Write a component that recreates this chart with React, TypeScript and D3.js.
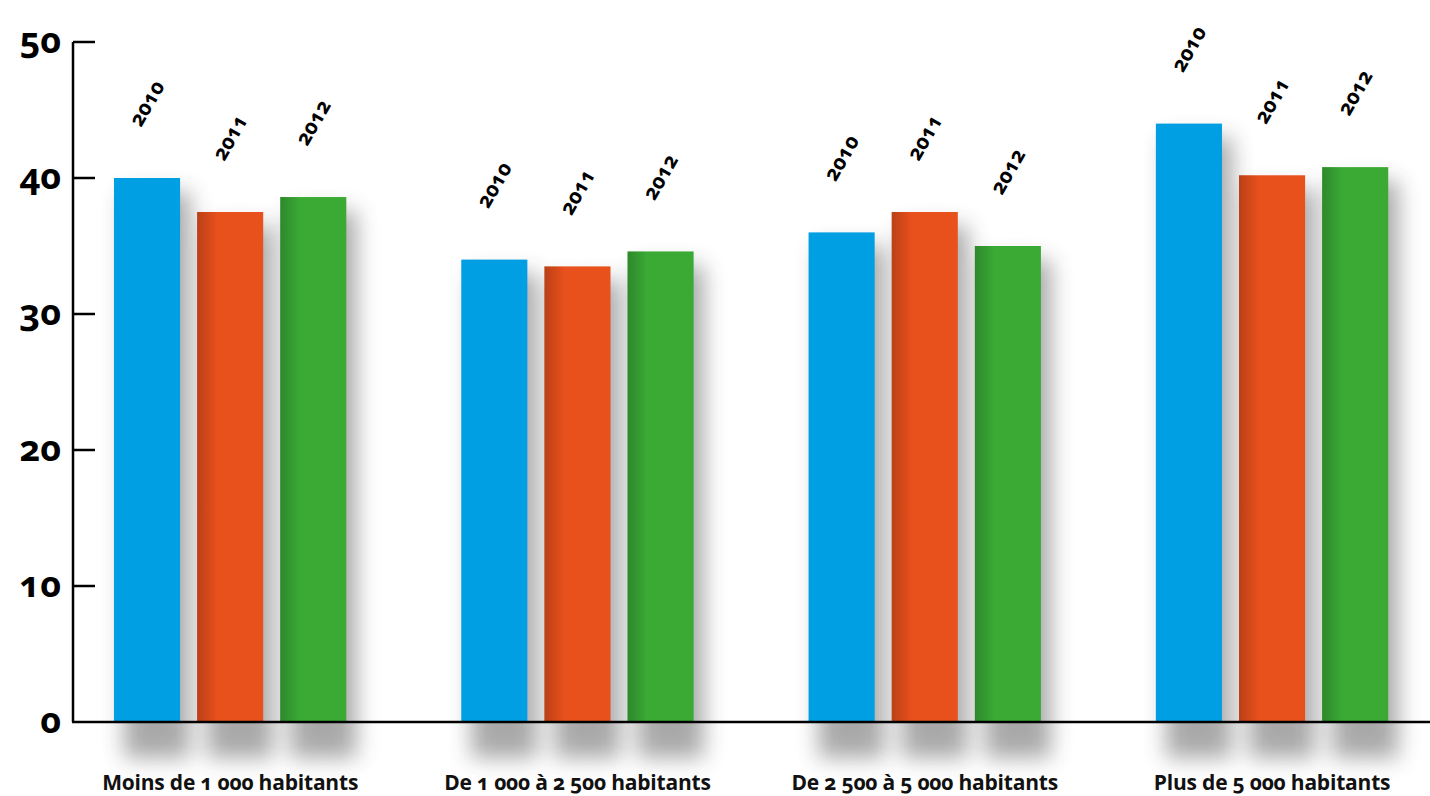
import React from "react";
import * as d3 from "d3";

const categories = [
  "Moins de 1 000 habitants",
  "De 1 000 à 2 500 habitants",
  "De 2 500 à 5 000 habitants",
  "Plus de 5 000 habitants",
];
const years = ["2010", "2011", "2012"];
const values2010 = [40.0, 34.0, 36.0, 44.0];
const values2011 = [37.5, 33.5, 37.5, 40.2];
const values2012 = [38.6, 34.6, 35.0, 40.8];
const yTicks = [0, 10, 20, 30, 40, 50];
const colors = ["#009fe3", "#e8501c", "#3aaa35"];

const W = 1430;
const H = 796;

export default function App() {
  const series = [values2010, values2011, values2012];
  const y = d3.scaleLinear().domain([0, 50]).range([722, 42]);
  const x0 = d3
    .scaleBand<string>()
    .domain(categories)
    .range([56.5, 1445.7])
    .paddingInner(0.331)
    .paddingOuter(0.1655);
  const x1 = d3
    .scaleBand<string>()
    .domain(years)
    .range([0, x0.bandwidth()])
    .paddingInner(0.205)
    .paddingOuter(0);
  const font = "'Open Sans', 'DejaVu Sans', sans-serif";
  const axisX = 73;

  const bars: { cat: string; yi: number; x: number; top: number; v: number }[] = [];
  categories.forEach((c, ci) => {
    years.forEach((yr, yi) => {
      const v = series[yi][ci];
      bars.push({ cat: c, yi, x: (x0(c) as number) + (x1(yr) as number), top: y(v), v });
    });
  });
  const bw = x1.bandwidth();

  return (
    <svg
      width={W}
      height={H}
      style={{ position: "absolute", left: 0, top: 0, background: "#fff" }}
    >
      <defs>
        <filter id="shadow" x="-50%" y="-50%" width="200%" height="200%">
          <feGaussianBlur stdDeviation="11" />
        </filter>
        <linearGradient id="edge" x1="0" x2="1" y1="0" y2="0">
          <stop offset="0" stopColor="#000" stopOpacity="0.2" />
          <stop offset="1" stopColor="#000" stopOpacity="0" />
        </linearGradient>
      </defs>
      {/* shadows */}
      <g filter="url(#shadow)" opacity={0.42}>
        {bars.map((b, i) => (
          <rect
            key={"s" + i}
            x={b.x + 10}
            y={b.top + 14}
            width={bw}
            height={y(0) - b.top + 22}
            fill="#333"
          />
        ))}
      </g>
      {/* bars */}
      {bars.map((b, i) => (
        <g key={"b" + i}>
          <rect x={b.x} y={b.top} width={bw} height={y(0) - b.top} fill={colors[b.yi]} />
          {b.yi > 0 && (
            <rect x={b.x} y={b.top} width={20} height={y(0) - b.top} fill="url(#edge)" />
          )}
        </g>
      ))}
      {/* axes */}
      <line x1={axisX} x2={axisX} y1={y(50)} y2={y(0)} stroke="#000" strokeWidth={2.5} />
      <line x1={axisX - 1} x2={W} y1={y(0)} y2={y(0)} stroke="#000" strokeWidth={2.5} />
      {yTicks.map((t) => (
        <g key={"t" + t}>
          {t > 0 && (
            <line x1={axisX} x2={axisX + 22} y1={y(t)} y2={y(t)} stroke="#000" strokeWidth={2.5} />
          )}
          <text
            x={61}
            y={y(t)}
            dy="0.3em"
            textAnchor="end"
            fontFamily={font}
            fontWeight={700}
            fontSize={36}
            style={{ fontFeatureSettings: "'onum'" }}
            fill="#000"
          >
            {t}
          </text>
        </g>
      ))}
      {/* year labels */}
      {bars.map((b, i) => (
        <text
          key={"y" + i}
          transform={`translate(${b.x + bw / 2 - 6},${b.top - 50}) rotate(-60)`}
          fontFamily={font}
          fontWeight={700}
          fontSize={21}
          style={{ fontFeatureSettings: "'onum'" }}
          fill="#000"
        >
          {years[b.yi]}
        </text>
      ))}
      {/* category labels */}
      {categories.map((c) => (
        <text
          key={c}
          x={(x0(c) as number) + x0.bandwidth() / 2}
          y={790}
          textAnchor="middle"
          fontFamily={font}
          fontWeight={700}
          fontSize={21}
          letterSpacing={-0.2}
          style={{ fontFeatureSettings: "'onum'" }}
          fill="#111"
        >
          {c}
        </text>
      ))}
    </svg>
  );
}
